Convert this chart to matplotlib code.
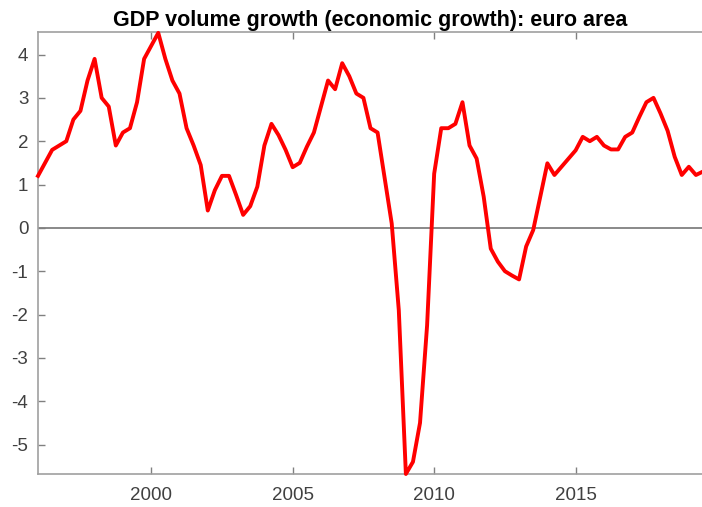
import matplotlib
matplotlib.use('Agg')
import matplotlib.pyplot as plt
import numpy as np

plt.rcParams['font.family'] = ['Liberation Sans', 'DejaVu Sans']
plt.rcParams['axes.unicode_minus'] = False

# quarterly GDP volume growth, euro area, 1996Q1 onwards
start_year = 1996.0
growth = [
    1.2, 1.5, 1.8, 1.9,    # 1996
    2.0, 2.5, 2.7, 3.4,    # 1997
    3.9, 3.0, 2.8, 1.9,    # 1998
    2.2, 2.3, 2.9, 3.9,    # 1999
    4.2, 4.5, 3.9, 3.4,    # 2000
    3.1, 2.3, 1.9, 1.45,   # 2001
    0.4, 0.87, 1.2, 1.2,   # 2002
    0.76, 0.3, 0.5, 0.95,  # 2003
    1.9, 2.4, 2.14, 1.8,   # 2004
    1.4, 1.5, 1.87, 2.2,   # 2005
    2.8, 3.4, 3.2, 3.8,    # 2006
    3.5, 3.1, 3.0, 2.3,    # 2007
    2.2, 1.15, 0.1, -1.9,  # 2008
    -5.68, -5.4, -4.5, -2.25,  # 2009
    1.25, 2.3, 2.3, 2.4,   # 2010
    2.9, 1.9, 1.6, 0.72,   # 2011
    -0.48, -0.78, -1.0, -1.1,  # 2012
    -1.19, -0.43, -0.05, 0.72,  # 2013
    1.49, 1.22, 1.41, 1.6,  # 2014
    1.79, 2.1, 2.0, 2.1,   # 2015
    1.9, 1.81, 1.81, 2.1,  # 2016
    2.2, 2.56, 2.9, 3.0,   # 2017
    2.64, 2.24, 1.64, 1.22,  # 2018
    1.41, 1.22, 1.3,       # 2019
]
years = start_year + 0.25 * np.arange(len(growth))

fig = plt.figure(figsize=(7.02, 5.07), dpi=100)
ax = fig.add_axes([38 / 702, 1 - 474 / 507, 665 / 702, 442 / 507])

ax.axhline(0, color='#808080', lw=1.3, zorder=1)
ax.plot(years, growth, color='#ff0000', lw=2.8, zorder=3, clip_on=False)

ax.set_xlim(1996.0, 2019.5)
ax.set_ylim(-5.68, 4.52)
ax.set_xticks([2000, 2005, 2010, 2015])
ax.set_yticks([-5, -4, -3, -2, -1, 0, 1, 2, 3, 4])

ax.tick_params(direction='in', length=5, width=1, color='#808080',
               labelcolor='#404040', labelsize=13.5, top=True)
ax.tick_params(axis='x', pad=9)
ax.tick_params(axis='y', pad=7)
for side in ['left', 'bottom', 'top']:
    ax.spines[side].set_color('#a0a0a0')
    ax.spines[side].set_linewidth(1.2)
ax.spines['right'].set_visible(False)

ax.set_title('GDP volume growth (economic growth): euro area',
             fontsize=15.5, fontweight='bold', pad=4)

fig.savefig('out.png', dpi=100)
